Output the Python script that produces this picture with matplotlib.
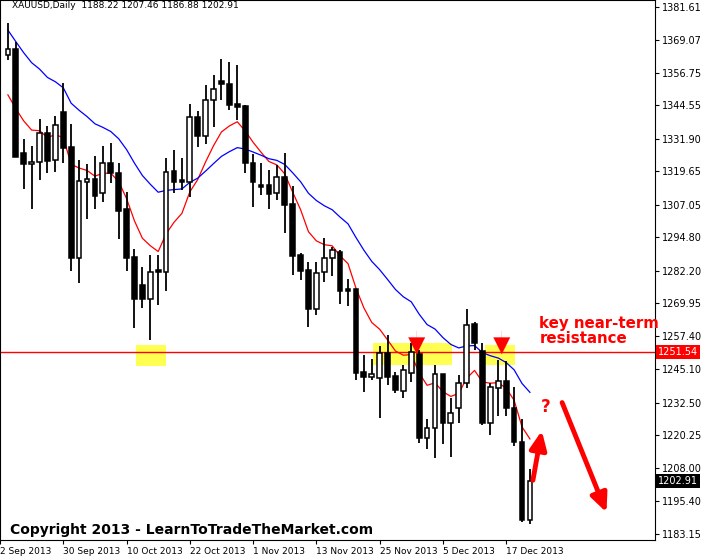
import matplotlib
matplotlib.use("Agg")
import matplotlib.pyplot as plt
from matplotlib.patches import Rectangle
import numpy as np

opens = [1363.4,1365.7,1326.5,1322.4,1323.1,1334.0,1323.9,1342.0,1328.8,1287.0,1315.6,1316.7,1311.4,1322.7,1319.0,1305.4,1287.3,1276.8,1271.5,1282.4,
         1281.7,1319.7,1316.3,1315.6,1340.1,1332.9,1346.5,1353.6,1352.5,1345.0,1344.2,1322.7,1314.5,1314.5,1311.4,1317.5,1307.3,1288.1,1282.4,1267.7,
         1281.7,1287.0,1289.2,1275.3,1275.3,1244.0,1242.1,1241.8,1251.2,1242.5,1236.9,1243.6,1250.8,1219.1,1222.9,1243.3,1224.8,1230.5,1239.9,1262.1,
         1251.9,1224.8,1238.0,1240.6,1230.5,1217.6,1188.22]
highs = [1375.5,1368.3,1331.8,1329.1,1339.3,1336.7,1340.4,1352.9,1337.4,1323.9,1322.4,1325.4,1329.1,1330.3,1322.7,1311.8,1290.3,1283.6,1288.1,1288.1,
         1324.6,1327.6,1324.6,1345.0,1342.3,1352.1,1355.9,1361.9,1360.8,1359.7,1344.6,1326.1,1322.7,1320.1,1322.0,1326.5,1314.1,1288.8,1285.4,1285.4,
         1294.5,1291.1,1290.0,1279.0,1275.3,1250.4,1248.9,1253.8,1258.0,1244.0,1246.6,1254.9,1252.3,1226.3,1246.6,1243.3,1234.2,1242.9,1267.7,1262.8,
         1254.9,1239.9,1248.5,1248.2,1238.4,1226.3,1207.46]
lows = [1361.5,1325.0,1312.9,1305.4,1316.3,1319.0,1319.4,1322.7,1282.1,1277.5,1301.6,1305.4,1308.1,1315.2,1294.1,1282.1,1260.6,1268.1,1256.1,1269.3,
        1274.5,1311.4,1312.6,1309.9,1328.8,1329.9,1336.3,1346.5,1342.7,1338.9,1319.0,1306.2,1310.7,1305.4,1308.8,1296.4,1280.6,1278.7,1261.0,1265.5,
        1277.9,1280.2,1269.6,1268.9,1241.0,1236.5,1241.0,1226.7,1239.1,1236.1,1234.2,1240.2,1217.3,1215.0,1211.6,1216.9,1212.0,1224.8,1238.0,1252.3,
        1224.0,1220.3,1227.4,1227.4,1216.1,1187.5,1186.88]
closes = [1365.7,1325.0,1322.4,1323.1,1334.0,1323.5,1337.1,1328.4,1287.0,1316.0,1316.7,1310.3,1322.7,1319.0,1304.7,1287.0,1271.5,1271.5,1281.7,1281.7,
          1319.4,1315.6,1315.6,1340.1,1332.9,1346.5,1350.6,1352.5,1344.6,1343.8,1322.7,1315.6,1313.7,1311.1,1317.5,1306.9,1287.7,1282.1,1267.7,1281.3,
          1287.0,1290.0,1274.5,1274.5,1243.6,1242.1,1243.3,1251.2,1242.1,1237.2,1244.8,1251.5,1219.1,1222.9,1243.3,1224.8,1228.6,1239.9,1261.7,1254.9,
          1224.8,1238.4,1240.6,1230.5,1217.6,1188.2,1202.91]
ma_fast_start = 1348.4
ma_slow_start = 1372.8
yticks = [1381.61,1369.07,1356.75,1344.55,1331.90,1319.65,1307.05,1294.80,1282.20,1269.95,1257.40,1245.10,1232.50,1220.25,1208.00,1195.40,1183.15]
date_idx = [-1,7,15,23,31,39,47,55,63]
date_labels = ["2 Sep 2013","30 Sep 2013","10 Oct 2013","22 Oct 2013","1 Nov 2013","13 Nov 2013","25 Nov 2013","5 Dec 2013","17 Dec 2013"]
resistance = 1251.54

def ema(vals, period, start):
    out = [start]
    k = 2/(period+1)
    for v in vals[1:]:
        out.append(out[-1] + k*(v-out[-1]))
    return out

fig = plt.figure(figsize=(7.28,5.56), dpi=100)
ax = fig.add_axes([0, 16/556, 655/728, 540/556])
X = lambda px: (px-0.5)/8
Y = lambda py: 1384.14-0.3767*py
ax.set_xlim(X(0), X(655)); ax.set_ylim(Y(540), Y(0))

for (x0,x1,y0,y1) in [(130,160,345,366),(370,450,343,365),(483,513,345,365)]:
    ax.add_patch(Rectangle((X(x0),Y(y1)), X(x1)-X(x0), Y(y0)-Y(y1), color='#ffff33', alpha=0.85, zorder=1, lw=0))

ax.axhline(resistance, color='red', lw=1, zorder=2)
xs = np.arange(len(closes))
ax.plot(xs, ema(closes, 8, ma_fast_start), color='red', lw=0.9, zorder=3)
ax.plot(xs, ema(closes, 21, ma_slow_start), color='blue', lw=0.9, zorder=3)

for i,(o,h,l,c) in enumerate(zip(opens,highs,lows,closes)):
    ax.vlines(i, l, h, color='black', lw=1.3, zorder=4)
    lo, hi = min(o,c), max(o,c)
    ax.add_patch(Rectangle((i-0.3, lo), 0.6, max(hi-lo,0.4), facecolor='white' if c>o else 'black',
                           edgecolor='black', lw=1.1, zorder=5))

for px in (414,500):
    ax.annotate('', xy=(X(px),Y(357)), xytext=(X(px),Y(328)),
                arrowprops=dict(arrowstyle='-|>,head_width=0.6,head_length=1.2', color='red', lw=0.1), zorder=6)
ax.annotate('', xy=(X(541),Y(428)), xytext=(X(531),Y(483)),
            arrowprops=dict(arrowstyle='-|>,head_width=0.5,head_length=1.1', color='red', lw=3.5), zorder=6)
ax.annotate('', xy=(X(607),Y(515)), xytext=(X(560),Y(400)),
            arrowprops=dict(arrowstyle='-|>,head_width=0.5,head_length=1.1', color='red', lw=3.5), zorder=6)
ax.text(X(538), Y(331), "key near-term\nresistance", color='red', fontsize=10.8, fontweight='bold',
        va='center', ha='left', linespacing=0.95, zorder=7)
ax.text(X(544), Y(407), "?", color='red', fontsize=12, fontweight='bold', va='center', ha='center', zorder=7)
ax.text(X(3), Y(530), "Copyright 2013 - LearnToTradeTheMarket.com", fontsize=10, fontweight='bold',
        va='center', ha='left', zorder=7, bbox=dict(facecolor='white', edgecolor='none', pad=1))
ax.text(X(5), Y(6), "XAUUSD,Daily  1188.22 1207.46 1186.88 1202.91", fontsize=6.5, va='center', ha='left', color='black', zorder=7)

ax.yaxis.tick_right()
ax.set_yticks(yticks)
ax.set_yticklabels([f"{v:.2f}" for v in yticks], fontsize=7)
ax.set_xticks(date_idx)
ax.set_xticklabels(date_labels, fontsize=6.5, ha='left')
ax.tick_params(length=3, pad=2)
for s in ax.spines.values():
    s.set_linewidth(0.8)

ax.text(1.005, resistance, f"{resistance:.2f}", transform=ax.get_yaxis_transform(), fontsize=7, color='white',
        va='center', ha='left', bbox=dict(facecolor='red', edgecolor='none', pad=1.5), zorder=8, clip_on=False)
ax.text(1.005, closes[-1], f"{closes[-1]:.2f}", transform=ax.get_yaxis_transform(), fontsize=7, color='white',
        va='center', ha='left', bbox=dict(facecolor='black', edgecolor='none', pad=1.5), zorder=8, clip_on=False)

fig.savefig("out.png", dpi=100)
